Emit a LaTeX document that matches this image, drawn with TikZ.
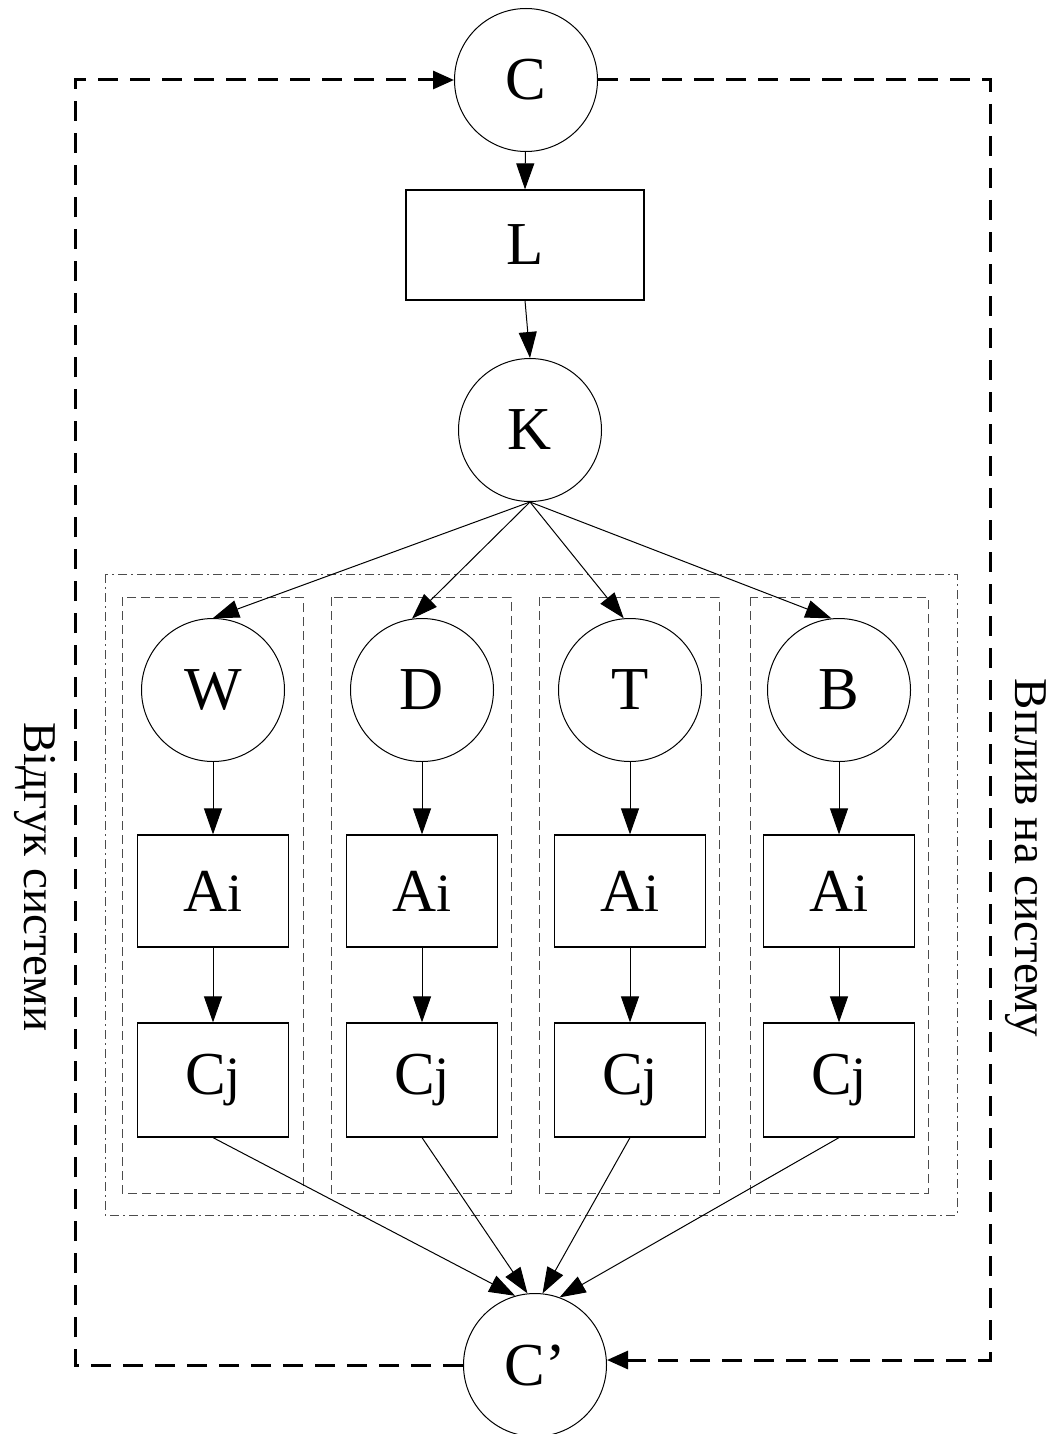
\documentclass[tikz,border=0pt]{standalone}
\usepackage{fontspec}
\setmainfont{Liberation Serif}
\usetikzlibrary{arrows.meta}
\begin{document}
\begin{tikzpicture}[x=1pt,y=-1pt,
  circ/.style={draw,circle,line width=1pt,minimum size=143pt,inner sep=0pt,font=\fontsize{61}{61}\selectfont},
  rbox/.style={draw,rectangle,line width=1.2pt,inner sep=0pt,font=\fontsize{61}{61}\selectfont},
  conn/.style={line width=1pt,-{Triangle[length=26pt,width=18pt]}},
  loop/.style={line width=3pt,dash pattern=on 20pt off 12pt},
  loopar/.style={loop,-{Triangle[length=21pt,width=18pt]}},
  grp/.style={line width=1pt,gray!60!black,dash pattern=on 9pt off 5pt},
  outer/.style={line width=1pt,gray!60!black,dash pattern=on 9pt off 4pt on 2pt off 4pt},
  lbl/.style={font=\fontsize{47}{47}\selectfont,rotate=-90}]
\useasboundingbox (0,0) rectangle (1055,1434);
% group boxes
\draw[outer] (105,574) rectangle (957,1215);
\foreach \a/\b in {122/303,331/511,539/719,750/928}
  \draw[grp] (\a,597) rectangle (\b,1193);
% main nodes
\node[circ] (C) at (526,80) {C};
\node[rbox,minimum width=238pt,minimum height=110pt] (L) at (525,245) {L};
\node[circ] (K) at (530,430) {K};
\node[circ] (Cp) at (535,1365) {C’};
% columns
\foreach \n/\x/\l/\ang in {1/213/W/90,2/422/D/98,3/630/T/95,4/839/B/96}{
  \node[circ] (S\n) at (\x,690) {\l};
  \node[rbox,minimum width=151pt,minimum height=112pt] (A\n) at (\x,891) {A{\fontsize{54}{54}\selectfont i}};
  \node[rbox,minimum width=151pt,minimum height=114pt] (J\n) at (\x,1080) {C{\fontsize{54}{54}\selectfont j}};
  \draw[conn] (S\n) -- (A\n);
  \draw[conn] (A\n) -- (J\n);
  \draw[conn] (K.south) -- (S\n.\ang);
}
\draw[conn] (C) -- (L.north);
\draw[conn] (L.south) -- (K.north);
\draw[conn] (J1.south) -- (Cp.106);
\draw[conn] (J2.south) -- (Cp.96);
\draw[conn] (J3.south) -- (Cp.84);
\draw[conn] (J4.south) -- (Cp.70);
% feedback loop
\coordinate (lb) at (75,1365);
\coordinate (lt) at (75,80);
\coordinate (rt) at (990,80);
\coordinate (rb) at (990,1360);
\draw[loopar] (Cp.west) -- (lb) -- (lt) -- (C.west);
\draw[loopar] (C.east) -- (rt) -- (rb) -- (Cp.east |- rb);
\node[lbl] (fb) at (35,877) {Відгук системи};
\node[lbl] (inf) at (1026,858) {Вплив на систему};
\end{tikzpicture}
\end{document}
